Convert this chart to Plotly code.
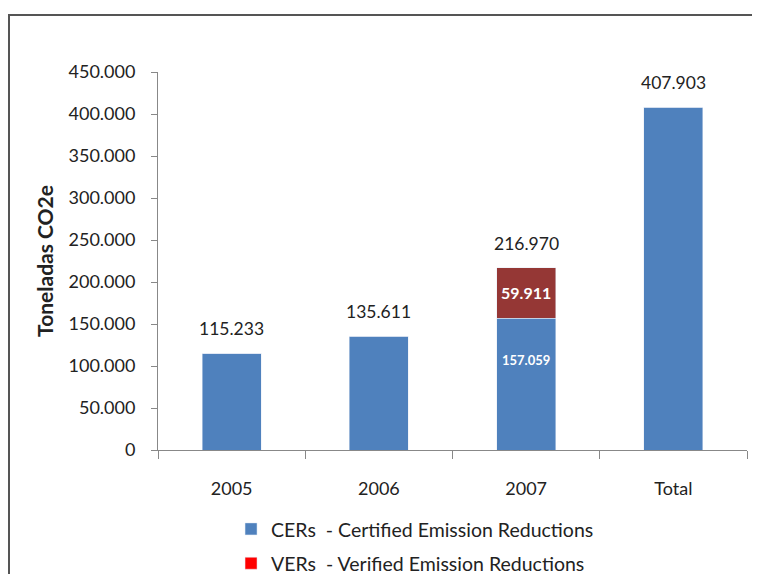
import plotly.graph_objects as go

years = ["2005", "2006", "2007", "Total"]
cers = [115233, 135611, 157059, 407903]
vers = [0, 0, 59911, 0]
totals = [c + v for c, v in zip(cers, vers)]

blue = "#4F81BD"
dark_red = "#953735"

W, H = 752, 566
L, R, T, B = 150, 13, 64, 124
pw, ph = W - L - R, H - T - B

fig = go.Figure()

fig.add_trace(go.Bar(x=years, y=cers, name="CERs  - Certified Emission Reductions",
                     marker_color=blue, width=0.4, legendgroup="a"))
fig.add_trace(go.Bar(x=years, y=vers, name="VERs  - Verified Emission Reductions",
                     marker_color=dark_red, width=0.4, showlegend=False,
                     text=[f"{v:,}".replace(",", ".") if v else "" for v in vers],
                     textposition="inside", insidetextanchor="middle",
                     textfont=dict(color="white", size=16, family="Lato", weight="bold")))

# legend-only entry for VERs (bright red swatch as in the original)
fig.add_trace(go.Bar(x=[years[0]], y=[0], name="VERs  - Verified Emission Reductions",
                     marker_color="#FF0000", width=0.4, legendgroup="b", hoverinfo="skip"))

# annotations on a category axis take the category index
for i, t in enumerate(totals):
    fig.add_annotation(x=i, y=t, text=f"{t:,}".replace(",", "."), showarrow=False,
                       yanchor="bottom", yshift=12,
                       font=dict(size=17.5, color="#222", family="Lato"))

# CER label inside the stacked 2007 bar
for i, (c, v) in enumerate(zip(cers, vers)):
    if v:
        fig.add_annotation(x=i, y=c, text=f"{c:,}".replace(",", "."), showarrow=False,
                           yanchor="middle", yshift=-42,
                           font=dict(size=13, color="white", family="Lato", weight="bold"))

fig.update_layout(
    barmode="stack",
    width=W, height=H,
    margin=dict(l=L, r=R, t=T, b=B, autoexpand=False),
    paper_bgcolor="white", plot_bgcolor="white",
    separators=",.",
    font=dict(family="Lato", color="#222"),
    legend=dict(orientation="v", x=0.124, xanchor="left", y=-0.158, yanchor="top",
                font=dict(size=19.5, color="#222"), traceorder="grouped", tracegroupgap=6),
    shapes=[dict(type="rect", xref="paper", yref="paper",
                 x0=(1 - L) / pw, x1=(749 - L) / pw,
                 y0=-(H + 10 - T - ph) / ph, y1=(T + ph - 7) / ph,
                 line=dict(color="#555", width=2))],
)

fig.update_xaxes(type="category", showline=True, linecolor="#888", ticks="outside",
                 tickson="boundaries", ticklen=8, tickcolor="#888",
                 ticklabelstandoff=22,
                 tickfont=dict(size=18, color="#222"), showgrid=False, automargin=False)
fig.update_yaxes(range=[0, 450000], dtick=50000, tickformat=",d", showline=True,
                 linecolor="#888", ticks="outside", ticklen=6, tickcolor="#888",
                 ticklabelstandoff=12,
                 showgrid=False, zeroline=False, tickfont=dict(size=18, color="#222"),
                 automargin=False,
                 title=dict(text="<b>Toneladas CO2e</b>", font=dict(size=21, color="#222"),
                            standoff=9))

fig.write_html("out.html")
